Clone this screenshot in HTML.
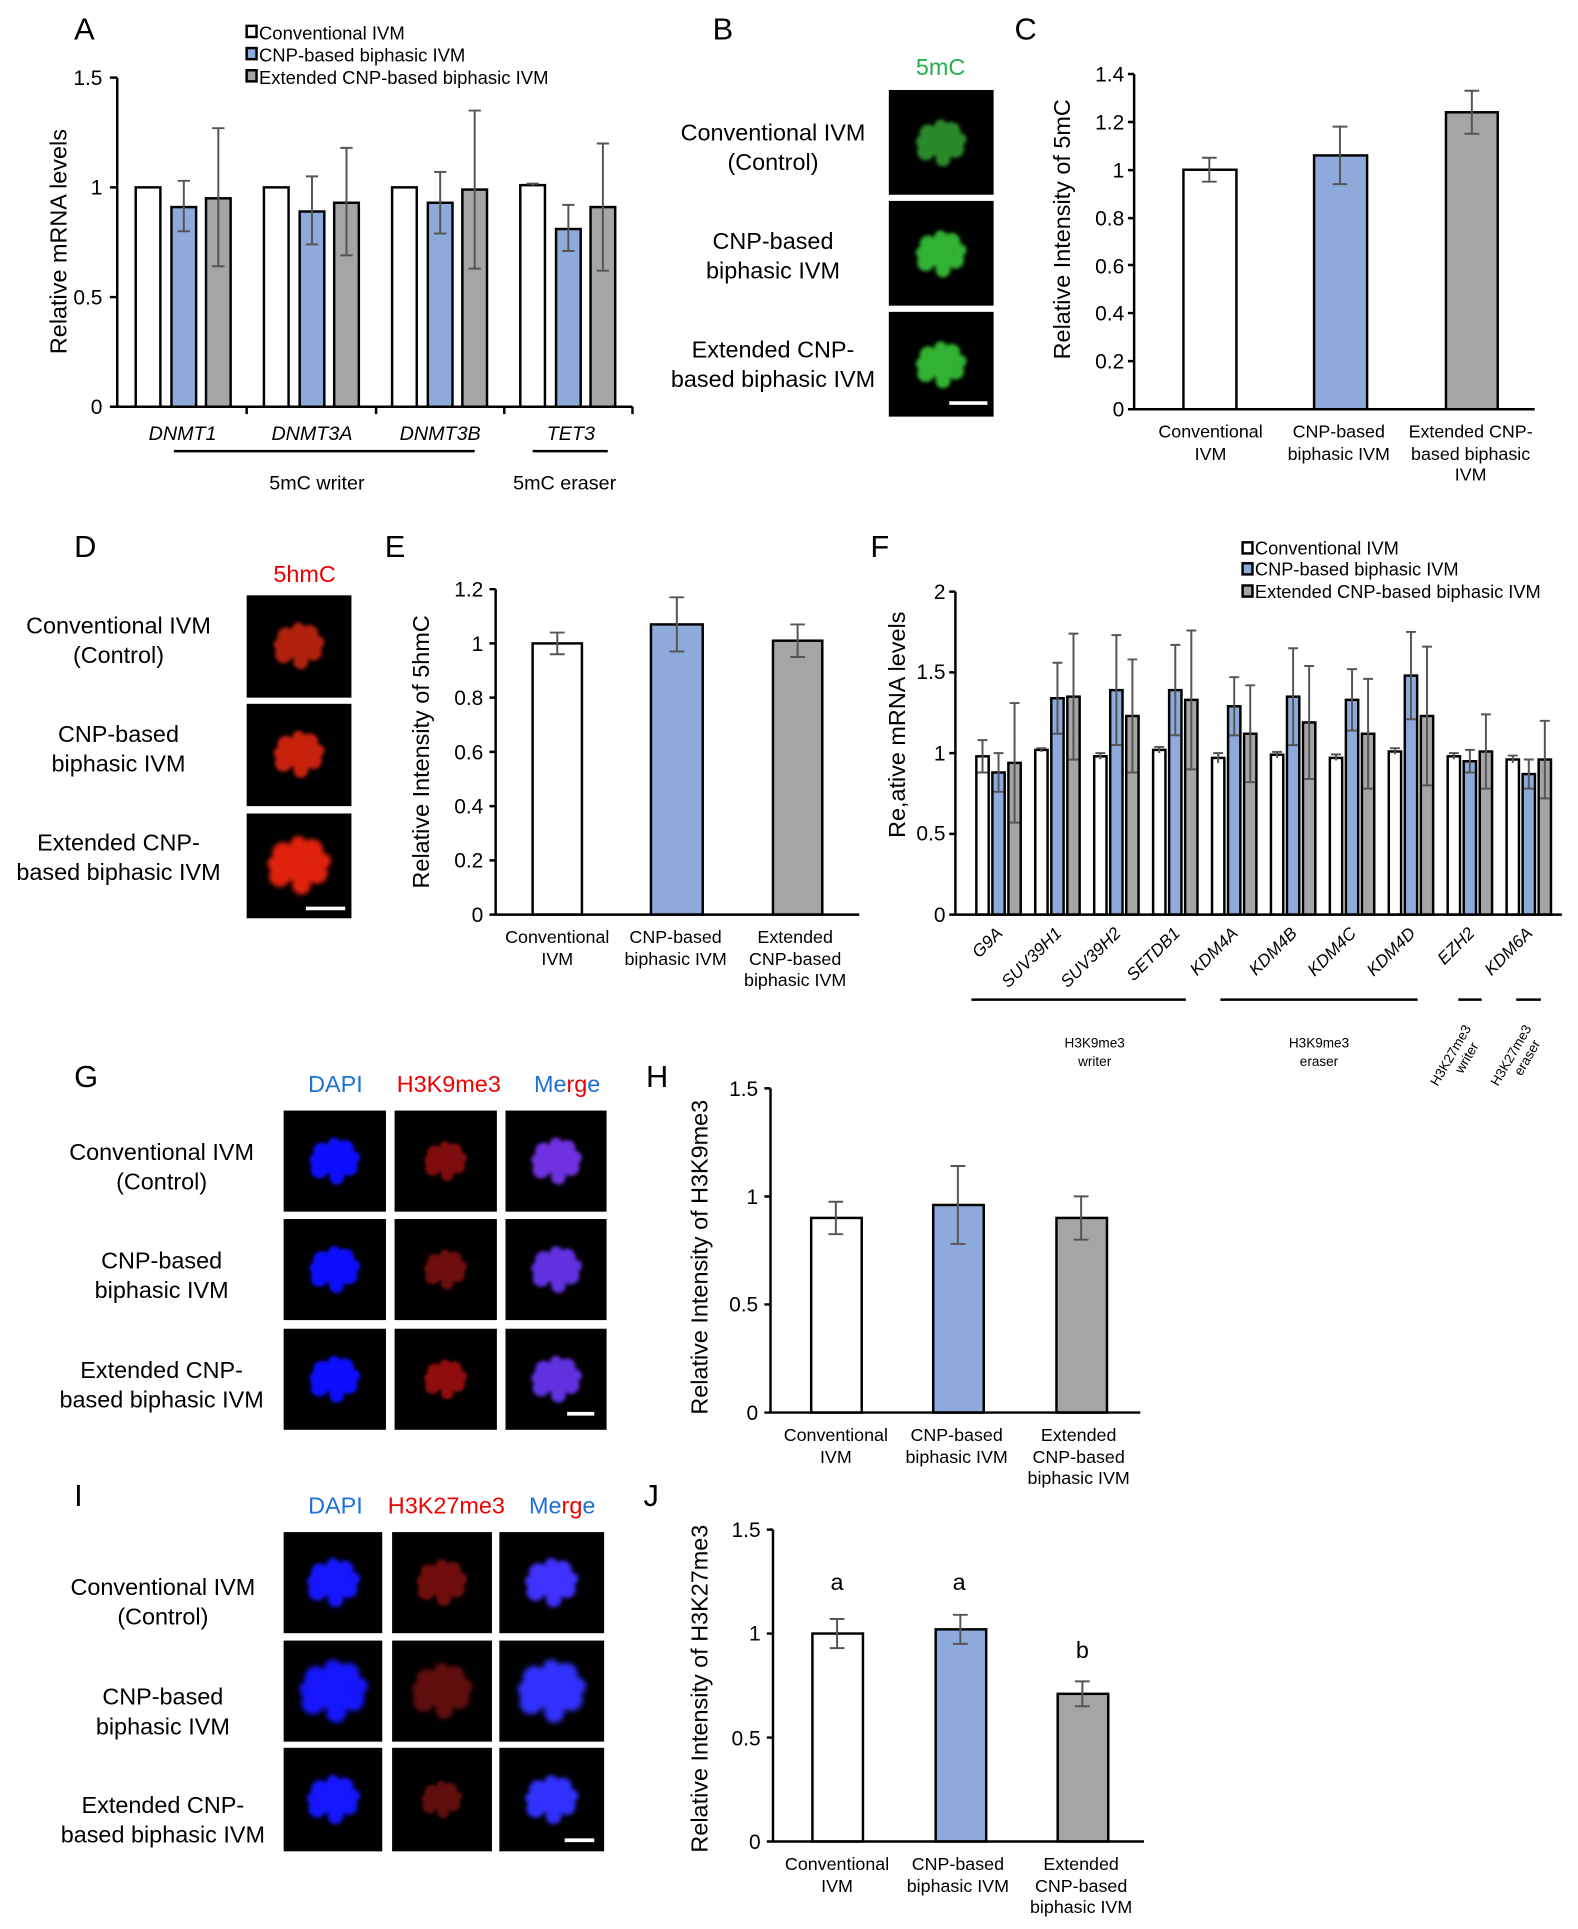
<!DOCTYPE html>
<html><head><meta charset="utf-8"><style>
html,body{margin:0;padding:0;background:#fff}
svg{display:block}
text{font-family:"Liberation Sans",Arial,sans-serif;fill:#000}
.t{font-size:17px}
.L{font-size:25px}
.c{font-size:14.5px;text-anchor:middle}
.i{font-style:italic;font-size:16px;text-anchor:middle}
.lab{font-size:19px;text-anchor:middle}
.ax{stroke:#000;stroke-width:2;fill:none}
.e{stroke:#555;stroke-width:1.6;fill:none}
.w{fill:#fff;stroke:#000;stroke-width:2}
.b{fill:#8eaadb;stroke:#000;stroke-width:2}
.g{fill:#a5a5a5;stroke:#000;stroke-width:2}
.r{text-anchor:end}
</style></head><body>
<svg width="1578" height="1929" viewBox="0 0 1280 1565" xmlns="http://www.w3.org/2000/svg">
<defs>
<filter id="bl" x="-50%" y="-50%" width="200%" height="200%"><feGaussianBlur stdDeviation="1.6"/></filter>
<g id="blob" filter="url(#bl)">
<circle cx="0" cy="0" r="11"/><circle cx="-10" cy="-8" r="7"/><circle cx="9" cy="-10" r="7"/><circle cx="12" cy="5" r="7"/><circle cx="-12" cy="7" r="7"/><circle cx="2" cy="13" r="6"/><circle cx="0" cy="-14" r="5"/><circle cx="-15" cy="-1" r="5"/><circle cx="16" cy="-3" r="5"/>
</g>
</defs>

<!-- Panel A -->
<text x="60" y="32" class="L">A</text>
<rect x="200" y="21" width="8" height="9" class="w" stroke-width="1.3"/><text x="210" y="32" style="font-size:15px">Conventional IVM</text>
<rect x="200" y="39" width="8" height="9" class="b" stroke-width="1.3"/><text x="210" y="50" style="font-size:15px">CNP-based biphasic IVM</text>
<rect x="200" y="57" width="8" height="9" class="g" stroke-width="1.3"/><text x="210" y="68" style="font-size:15px">Extended CNP-based biphasic IVM</text>
<text transform="translate(54,196) rotate(-90)" class="lab">Relative mRNA levels</text>
<text x="83" y="69" class="t r">1.5</text><text x="83" y="158" class="t r">1</text><text x="83" y="247" class="t r">0.5</text><text x="83" y="336" class="t r">0</text>
<g>
<rect x="110" y="152" width="20" height="178" class="w"/><rect x="139" y="168" width="20" height="162" class="b"/><rect x="167" y="160.9" width="20" height="169.1" class="g"/>
<rect x="214" y="152" width="20" height="178" class="w"/><rect x="243" y="171.6" width="20" height="158.4" class="b"/><rect x="271" y="164.5" width="20" height="165.5" class="g"/>
<rect x="318" y="152" width="20" height="178" class="w"/><rect x="347" y="164.5" width="20" height="165.5" class="b"/><rect x="375" y="153.8" width="20" height="176.2" class="g"/>
<rect x="422" y="150.2" width="20" height="179.8" class="w"/><rect x="451" y="185.8" width="20" height="144.2" class="b"/><rect x="479" y="168" width="20" height="162" class="g"/>
</g>
<path class="e" d="M149 146.7V187.6M144 146.7h10M144 187.6h10 M177 104V216M172 104h10M172 216h10
M253 143.1V198.3M248 143.1h10M248 198.3h10 M281 120V207.2M276 120h10M276 207.2h10
M357 139.5V189.4M352 139.5h10M352 189.4h10 M385 89.7V217.9M380 89.7h10M380 217.9h10
M432 149V151.5M427 149h10 M461 166.2V203.6M456 166.2h10M456 203.6h10 M489 116.4V219.6M484 116.4h10M484 219.6h10"/>
<path class="ax" d="M95 63V330H513M89 63h6M89 152h6M89 241h6M89 330h6M200 330v6M305 330v6M409 330v6M513 330v6"/>
<text x="148" y="357" class="i">DNMT1</text><text x="253" y="357" class="i">DNMT3A</text><text x="357" y="357" class="i">DNMT3B</text><text x="463" y="357" class="i">TET3</text>
<path class="ax" d="M141 366H385M432 366H493"/>
<text x="257" y="397" class="c" style="font-size:16px">5mC writer</text><text x="458" y="397" class="c" style="font-size:16px">5mC eraser</text>

<!-- Panel B -->
<text x="578" y="32" class="L">B</text>
<text x="763" y="61" class="lab" style="fill:#22b14c">5mC</text>
<rect x="721" y="73" width="85" height="85" fill="#000"/><rect x="721" y="163" width="85" height="85" fill="#000"/><rect x="721" y="253" width="85" height="85" fill="#000"/>
<use href="#blob" x="763" y="116" fill="#2a8a2a"/><use href="#blob" x="763" y="206" fill="#33b233"/><use href="#blob" x="763" y="296" fill="#33b233"/>
<path d="M770 327H801" stroke="#fff" stroke-width="3"/>
<text x="627" y="114" class="lab">Conventional IVM</text><text x="627" y="138" class="lab">(Control)</text>
<text x="627" y="202" class="lab">CNP-based</text><text x="627" y="226" class="lab">biphasic IVM</text>
<text x="627" y="290" class="lab">Extended CNP-</text><text x="627" y="314" class="lab">based biphasic IVM</text>

<!-- Panel C -->
<text x="823" y="32" class="L">C</text>
<text transform="translate(868,186) rotate(-90)" class="lab">Relative Intensity of 5mC</text>
<text x="912" y="66" class="t r">1.4</text><text x="912" y="105" class="t r">1.2</text><text x="912" y="144" class="t r">1</text><text x="912" y="183" class="t r">0.8</text><text x="912" y="222" class="t r">0.6</text><text x="912" y="260" class="t r">0.4</text><text x="912" y="299" class="t r">0.2</text><text x="912" y="338" class="t r">0</text>
<rect x="960" y="137.7" width="43" height="194.3" class="w"/><rect x="1066" y="126.1" width="43" height="205.9" class="b"/><rect x="1173" y="91.1" width="42" height="240.9" class="g"/>
<path class="e" d="M981 128V147.4M975 128h12M975 147.4h12 M1087 102.7V149.4M1081 102.7h12M1081 149.4h12 M1194 73.6V108.5M1188 73.6h12M1188 108.5h12"/>
<path class="ax" d="M920 60V332H1245M915 60h5M915 99h5M915 138h5M915 177h5M915 215h5M915 254h5M915 293h5M915 332h5"/>
<text x="982" y="355" class="c">Conventional</text><text x="982" y="373" class="c">IVM</text>
<text x="1086" y="355" class="c">CNP-based</text><text x="1086" y="373" class="c">biphasic IVM</text>
<text x="1193" y="355" class="c">Extended CNP-</text><text x="1193" y="373" class="c">based biphasic</text><text x="1193" y="390" class="c">IVM</text>

<!-- Panel D -->
<text x="60" y="452" class="L">D</text>
<text x="247" y="472" class="lab" style="fill:#e00">5hmC</text>
<rect x="200" y="483" width="85" height="83" fill="#000"/><rect x="200" y="571" width="85" height="83" fill="#000"/><rect x="200" y="660" width="85" height="85" fill="#000"/>
<use href="#blob" x="242" y="524" fill="#b02010"/><use href="#blob" x="242" y="612" fill="#c82010"/><use href="#blob" transform="translate(242,702) scale(1.25)" fill="#e02010"/>
<path d="M248 737H280" stroke="#fff" stroke-width="3"/>
<text x="96" y="514" class="lab">Conventional IVM</text><text x="96" y="538" class="lab">(Control)</text>
<text x="96" y="602" class="lab">CNP-based</text><text x="96" y="626" class="lab">biphasic IVM</text>
<text x="96" y="690" class="lab">Extended CNP-</text><text x="96" y="714" class="lab">based biphasic IVM</text>

<!-- Panel E -->
<text x="312" y="452" class="L">E</text>
<text transform="translate(348,610) rotate(-90)" class="lab">Relative Intensity of 5hmC</text>
<text x="392" y="484" class="t r">1.2</text><text x="392" y="528" class="t r">1</text><text x="392" y="572" class="t r">0.8</text><text x="392" y="616" class="t r">0.6</text><text x="392" y="660" class="t r">0.4</text><text x="392" y="704" class="t r">0.2</text><text x="392" y="748" class="t r">0</text>
<rect x="432" y="522" width="40" height="220" class="w"/><rect x="528" y="506.6" width="42" height="235.4" class="b"/><rect x="627" y="519.8" width="40" height="222.2" class="g"/>
<path class="e" d="M452 513.2V530.8M446 513.2h12M446 530.8h12 M549 484.6V528.6M543 484.6h12M543 528.6h12 M647 506.6V533M641 506.6h12M641 533h12"/>
<path class="ax" d="M402 478V742H697M397 478h5M397 522h5M397 566h5M397 610h5M397 654h5M397 698h5M397 742h5"/>
<text x="452" y="765" class="c">Conventional</text><text x="452" y="783" class="c">IVM</text>
<text x="548" y="765" class="c">CNP-based</text><text x="548" y="783" class="c">biphasic IVM</text>
<text x="645" y="765" class="c">Extended</text><text x="645" y="783" class="c">CNP-based</text><text x="645" y="800" class="c">biphasic IVM</text>

<!-- Panel F -->
<text x="706" y="452" class="L">F</text>
<rect x="1008" y="440" width="8" height="9" class="w" stroke-width="1.3"/><text x="1018" y="450" style="font-size:14.8px">Conventional IVM</text>
<rect x="1008" y="457" width="8" height="9" class="b" stroke-width="1.3"/><text x="1018" y="467" style="font-size:14.8px">CNP-based biphasic IVM</text>
<rect x="1008" y="475" width="8" height="9" class="g" stroke-width="1.3"/><text x="1018" y="485" style="font-size:14.8px">Extended CNP-based biphasic IVM</text>
<text transform="translate(734,588) rotate(-90)" class="lab">Re,ative mRNA levels</text>
<text x="767" y="486" class="t r">2</text><text x="767" y="551" class="t r">1.5</text><text x="767" y="617" class="t r">1</text><text x="767" y="682" class="t r">0.5</text><text x="767" y="748" class="t r">0</text>
<g>
<rect x="792" y="613.6" width="10" height="128.4" class="w" stroke-width="1.5"/><rect x="805" y="626.7" width="10" height="115.3" class="b" stroke-width="1.5"/><rect x="818" y="618.9" width="10" height="123.1" class="g" stroke-width="1.5"/>
<rect x="839.8" y="608.4" width="10" height="133.6" class="w" stroke-width="1.5"/><rect x="852.8" y="566.5" width="10" height="175.5" class="b" stroke-width="1.5"/><rect x="865.8" y="565.2" width="10" height="176.8" class="g" stroke-width="1.5"/>
<rect x="887.6" y="613.6" width="10" height="128.4" class="w" stroke-width="1.5"/><rect x="900.6" y="559.9" width="10" height="182.1" class="b" stroke-width="1.5"/><rect x="913.6" y="580.9" width="10" height="161.1" class="g" stroke-width="1.5"/>
<rect x="935.4" y="608.4" width="10" height="133.6" class="w" stroke-width="1.5"/><rect x="948.4" y="559.9" width="10" height="182.1" class="b" stroke-width="1.5"/><rect x="961.4" y="567.8" width="10" height="174.2" class="g" stroke-width="1.5"/>
<rect x="983.2" y="614.9" width="10" height="127.1" class="w" stroke-width="1.5"/><rect x="996.2" y="573" width="10" height="169" class="b" stroke-width="1.5"/><rect x="1009.2" y="595.3" width="10" height="146.7" class="g" stroke-width="1.5"/>
<rect x="1031" y="612.3" width="10" height="129.7" class="w" stroke-width="1.5"/><rect x="1044" y="565.2" width="10" height="176.8" class="b" stroke-width="1.5"/><rect x="1057" y="586.1" width="10" height="155.9" class="g" stroke-width="1.5"/>
<rect x="1078.8" y="614.9" width="10" height="127.1" class="w" stroke-width="1.5"/><rect x="1091.8" y="567.8" width="10" height="174.2" class="b" stroke-width="1.5"/><rect x="1104.8" y="595.3" width="10" height="146.7" class="g" stroke-width="1.5"/>
<rect x="1126.6" y="609.7" width="10" height="132.3" class="w" stroke-width="1.5"/><rect x="1139.6" y="548.1" width="10" height="193.9" class="b" stroke-width="1.5"/><rect x="1152.6" y="580.9" width="10" height="161.1" class="g" stroke-width="1.5"/>
<rect x="1174.4" y="613.6" width="10" height="128.4" class="w" stroke-width="1.5"/><rect x="1187.4" y="617.6" width="10" height="124.4" class="b" stroke-width="1.5"/><rect x="1200.4" y="609.7" width="10" height="132.3" class="g" stroke-width="1.5"/>
<rect x="1222.2" y="616.2" width="10" height="125.8" class="w" stroke-width="1.5"/><rect x="1235.2" y="628" width="10" height="114" class="b" stroke-width="1.5"/><rect x="1248.2" y="616.2" width="10" height="125.8" class="g" stroke-width="1.5"/>
</g>
<path class="e" stroke-width="1.3" d="
M797 600.5V626.7M793 600.5h8M793 626.7h8 M810 611V642.4M806 611h8M806 642.4h8 M823 570.4V667.4M819 570.4h8M819 667.4h8
M844.8 607V610M840.8 607h8 M857.8 537.7V595.3M853.8 537.7h8M853.8 595.3h8 M870.8 514.1V616.3M866.8 514.1h8M866.8 616.3h8
M892.6 611V616M888.6 611h8 M905.6 515.3V604.4M901.6 515.3h8M901.6 604.4h8 M918.6 535V626.7M914.6 535h8M914.6 626.7h8
M940.4 606V611M936.4 606h8 M953.4 523.2V596.5M949.4 523.2h8M949.4 596.5h8 M966.4 511.5V624.2M962.4 511.5h8M962.4 624.2h8
M988.2 611V619M984.2 611h8 M1001.2 549.4V596.6M997.2 549.4h8M997.2 596.6h8 M1014.2 556V634.6M1010.2 556h8M1010.2 634.6h8
M1036 610V615M1032 610h8 M1049 525.9V604.5M1045 525.9h8M1045 604.5h8 M1062 540.3V632M1058 540.3h8M1058 632h8
M1083.8 612V617M1079.8 612h8 M1096.8 542.9V592.7M1092.8 542.9h8M1092.8 592.7h8 M1109.8 550.8V639.8M1105.8 550.8h8M1105.8 639.8h8
M1131.6 607V612M1127.6 607h8 M1144.6 512.7V583.5M1140.6 512.7h8M1140.6 583.5h8 M1157.6 524.6V637.2M1153.6 524.6h8M1153.6 637.2h8
M1179.4 611V616M1175.4 611h8 M1192.4 608.4V626.7M1188.4 608.4h8M1188.4 626.7h8 M1205.4 579.6V639.8M1201.4 579.6h8M1201.4 639.8h8
M1227.2 613V619M1223.2 613h8 M1240.2 616.2V639.8M1236.2 616.2h8M1236.2 639.8h8 M1253.2 584.8V647.7M1249.2 584.8h8M1249.2 647.7h8"/>
<path class="ax" d="M775 480V742H1267M770 480h5M770 545.5h5M770 611h5M770 676.5h5M770 742h5"/>
<g style="font-size:14px;font-style:italic;text-anchor:end">
<text transform="translate(814,758) rotate(-45)">G9A</text>
<text transform="translate(862,758) rotate(-45)">SUV39H1</text>
<text transform="translate(910,758) rotate(-45)">SUV39H2</text>
<text transform="translate(958,758) rotate(-45)">SETDB1</text>
<text transform="translate(1005,758) rotate(-45)">KDM4A</text>
<text transform="translate(1053,758) rotate(-45)">KDM4B</text>
<text transform="translate(1101,758) rotate(-45)">KDM4C</text>
<text transform="translate(1149,758) rotate(-45)">KDM4D</text>
<text transform="translate(1197,758) rotate(-45)">EZH2</text>
<text transform="translate(1244,758) rotate(-45)">KDM6A</text>
</g>
<path class="ax" stroke-width="1.5" d="M788 811H962M990 811H1150M1183 811H1202M1230 811H1250"/>
<g style="font-size:11px;text-anchor:middle">
<text x="888" y="850">H3K9me3</text><text x="888" y="865">writer</text>
<text x="1070" y="850">H3K9me3</text><text x="1070" y="865">eraser</text>
<text transform="translate(1180,858) rotate(-60)">H3K27me3</text><text transform="translate(1193,860) rotate(-60)">writer</text>
<text transform="translate(1229,858) rotate(-60)">H3K27me3</text><text transform="translate(1242,860) rotate(-60)">eraser</text>
</g>

<!-- Panel G -->
<text x="60" y="882" class="L">G</text>
<text x="272" y="886" class="lab" style="fill:#1e70d6">DAPI</text>
<text x="364" y="886" class="lab" style="fill:#e00">H3K9me3</text>
<text x="460" y="886" class="lab"><tspan style="fill:#1e70d6">Me</tspan><tspan style="fill:#e00">rg</tspan><tspan style="fill:#1e70d6">e</tspan></text>
<g fill="#000">
<rect x="230" y="901" width="83" height="82"/><rect x="320" y="901" width="83" height="82"/><rect x="410" y="901" width="82" height="82"/>
<rect x="230" y="989" width="83" height="82"/><rect x="320" y="989" width="83" height="82"/><rect x="410" y="989" width="82" height="82"/>
<rect x="230" y="1078" width="83" height="82"/><rect x="320" y="1078" width="83" height="82"/><rect x="410" y="1078" width="82" height="82"/>
</g>
<use href="#blob" x="271" y="942" fill="#1010ff"/><use href="#blob" transform="translate(361,942) scale(.85)" fill="#801010"/><use href="#blob" x="451" y="942" fill="#7030e0"/>
<use href="#blob" x="271" y="1030" fill="#1010ff"/><use href="#blob" transform="translate(361,1030) scale(.85)" fill="#701010"/><use href="#blob" x="451" y="1030" fill="#6030e0"/>
<use href="#blob" x="271" y="1119" fill="#1010ff"/><use href="#blob" transform="translate(361,1119) scale(.85)" fill="#901010"/><use href="#blob" x="451" y="1119" fill="#6030e0"/>
<path d="M460 1147H482" stroke="#fff" stroke-width="3"/>
<text x="131" y="941" class="lab">Conventional IVM</text><text x="131" y="965" class="lab">(Control)</text>
<text x="131" y="1029" class="lab">CNP-based</text><text x="131" y="1053" class="lab">biphasic IVM</text>
<text x="131" y="1118" class="lab">Extended CNP-</text><text x="131" y="1142" class="lab">based biphasic IVM</text>

<!-- Panel H -->
<text x="524" y="882" class="L">H</text>
<text transform="translate(574,1020) rotate(-90)" class="lab">Relative Intensity of H3K9me3</text>
<text x="615" y="889" class="t r">1.5</text><text x="615" y="977" class="t r">1</text><text x="615" y="1064" class="t r">0.5</text><text x="615" y="1152" class="t r">0</text>
<rect x="658" y="988.1" width="41" height="157.9" class="w"/><rect x="757" y="977.6" width="41" height="168.4" class="b"/><rect x="857" y="988.1" width="41" height="157.9" class="g"/>
<path class="e" d="M678 975V1001.3M672 975h12M672 1001.3h12 M777 946V1009.2M771 946h12M771 1009.2h12 M877 970.6V1005.7M871 970.6h12M871 1005.7h12"/>
<path class="ax" d="M625 883V1146H925M620 883h5M620 970.7h5M620 1058.3h5M620 1146h5"/>
<text x="678" y="1169" class="c">Conventional</text><text x="678" y="1187" class="c">IVM</text>
<text x="776" y="1169" class="c">CNP-based</text><text x="776" y="1187" class="c">biphasic IVM</text>
<text x="875" y="1169" class="c">Extended</text><text x="875" y="1187" class="c">CNP-based</text><text x="875" y="1204" class="c">biphasic IVM</text>

<!-- Panel I -->
<text x="60" y="1222" class="L">I</text>
<text x="272" y="1228" class="lab" style="fill:#1e70d6">DAPI</text>
<text x="362" y="1228" class="lab" style="fill:#e00">H3K27me3</text>
<text x="456" y="1228" class="lab"><tspan style="fill:#1e70d6">Me</tspan><tspan style="fill:#e00">rg</tspan><tspan style="fill:#1e70d6">e</tspan></text>
<g fill="#000">
<rect x="230" y="1243" width="80" height="82"/><rect x="318" y="1243" width="81" height="82"/><rect x="405" y="1243" width="85" height="82"/>
<rect x="230" y="1331" width="80" height="82"/><rect x="318" y="1331" width="81" height="82"/><rect x="405" y="1331" width="85" height="82"/>
<rect x="230" y="1418" width="80" height="84"/><rect x="318" y="1418" width="81" height="84"/><rect x="405" y="1418" width="85" height="84"/>
</g>
<use href="#blob" transform="translate(270,1284) scale(1.05)" fill="#1515ff"/><use href="#blob" transform="translate(358,1284)" fill="#701010"/><use href="#blob" transform="translate(447,1284) scale(1.05)" fill="#4030ff"/>
<use href="#blob" transform="translate(270,1372) scale(1.35)" fill="#1515ff"/><use href="#blob" transform="translate(358,1372) scale(1.2)" fill="#601010"/><use href="#blob" transform="translate(447,1372) scale(1.35)" fill="#3030ff"/>
<use href="#blob" transform="translate(270,1460) scale(1.05)" fill="#1515ff"/><use href="#blob" transform="translate(358,1460) scale(.8)" fill="#601010"/><use href="#blob" transform="translate(447,1460) scale(1.05)" fill="#3030ff"/>
<path d="M458 1493H482" stroke="#fff" stroke-width="3"/>
<text x="132" y="1294" class="lab">Conventional IVM</text><text x="132" y="1318" class="lab">(Control)</text>
<text x="132" y="1383" class="lab">CNP-based</text><text x="132" y="1407" class="lab">biphasic IVM</text>
<text x="132" y="1471" class="lab">Extended CNP-</text><text x="132" y="1495" class="lab">based biphasic IVM</text>

<!-- Panel J -->
<text x="522" y="1222" class="L">J</text>
<text transform="translate(574,1370) rotate(-90)" class="lab">Relative Intensity of H3K27me3</text>
<text x="617" y="1247" class="t r">1.5</text><text x="617" y="1331" class="t r">1</text><text x="617" y="1416" class="t r">0.5</text><text x="617" y="1500" class="t r">0</text>
<rect x="659" y="1325.3" width="41" height="168.7" class="w"/><rect x="759" y="1321.9" width="41" height="172.1" class="b"/><rect x="858" y="1374.2" width="41" height="119.8" class="g"/>
<path class="e" d="M679 1313.5V1337.1M673 1313.5h12M673 1337.1h12 M779 1310.1V1333.7M773 1310.1h12M773 1333.7h12 M878 1364.1V1384.3M872 1364.1h12M872 1384.3h12"/>
<path class="ax" d="M627 1241V1494H928M622 1241h5M622 1325.3h5M622 1409.7h5M622 1494h5"/>
<text x="679" y="1290" class="lab">a</text><text x="778" y="1290" class="lab">a</text><text x="878" y="1345" class="lab">b</text>
<text x="679" y="1517" class="c">Conventional</text><text x="679" y="1535" class="c">IVM</text>
<text x="777" y="1517" class="c">CNP-based</text><text x="777" y="1535" class="c">biphasic IVM</text>
<text x="877" y="1517" class="c">Extended</text><text x="877" y="1535" class="c">CNP-based</text><text x="877" y="1552" class="c">biphasic IVM</text>
</svg>
</body></html>
